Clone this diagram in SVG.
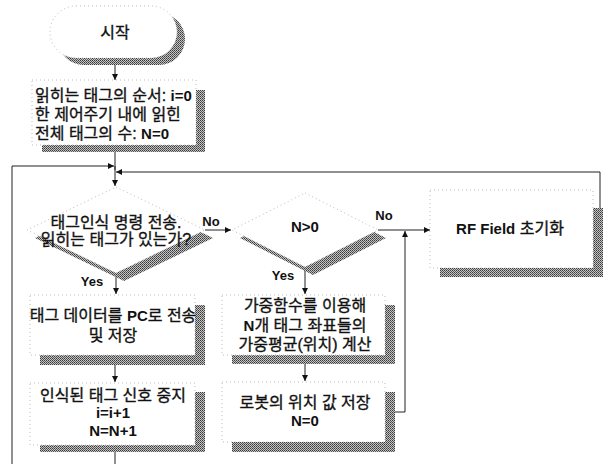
<svg xmlns="http://www.w3.org/2000/svg" width="603" height="464" viewBox="0 0 603 464">
<style>
text{font-family:"Liberation Sans","Noto Sans CJK KR",sans-serif;font-size:16px;fill:#111;stroke:#111;stroke-width:0.35;text-anchor:middle;dominant-baseline:central}
.b{font-weight:bold;stroke-width:0;font-size:15px}
.lbl{font-weight:bold;font-size:13px;stroke-width:0}
.box{fill:#fff;stroke:#bbb;stroke-width:1;stroke-dasharray:1 3}
.sh{fill:url(#dither)}
.ln{fill:none;stroke:#222;stroke-width:1}
.arr{marker-end:url(#ah)}
</style>
<defs>
<pattern id="dither" width="2" height="2" patternUnits="userSpaceOnUse">
<rect width="2" height="2" fill="#c4c4c4"/>
<rect width="1" height="1" fill="#3a3a3a"/>
<rect x="1" y="1" width="1" height="1" fill="#5a5a5a"/>
</pattern>
<marker id="ah" viewBox="0 0 10 10" refX="10" refY="5" markerWidth="7" markerHeight="6" markerUnits="userSpaceOnUse" orient="auto">
<path d="M0,0 L10,5 L0,10 z" fill="#111"/>
</marker>
</defs>
<rect width="603" height="464" fill="#fff"/>

<g id="connectors">
<path class="ln arr" d="M115,59 V80"/>
<path class="ln" d="M115,152 V170"/>
<path class="ln arr" d="M115,166 V186"/>
<path class="ln arr" d="M12,464 V166 H114"/>
<path class="ln arr" d="M600,208 V172 H116"/>
<path class="ln arr" d="M205,230 H231"/>
<path class="ln arr" d="M116,273 V294"/>
<path class="ln arr" d="M115,365 V382"/>
<path class="ln" d="M115,452 V464"/>
<path class="ln arr" d="M378,230 H430"/>
<path class="ln arr" d="M305,267 V294"/>
<path class="ln arr" d="M305,364 V381"/>
<path class="ln arr" d="M395,412 H405 V231"/>
<text class="lbl" x="211" y="221">No</text>
<text class="lbl" x="384" y="215">No</text>
<text class="lbl" x="92" y="281">Yes</text>
<text class="lbl" x="283" y="275">Yes</text>
</g>

<g id="start">
<rect class="sh" x="58" y="13" width="127" height="52" rx="26"/>
<rect class="box" x="50" y="6" width="127" height="52" rx="26"/>
<text x="115" y="32" font-size="16">시작</text>
</g>

<g id="init">
<rect class="sh" x="42" y="90" width="163" height="62"/>
<rect class="box" x="32" y="80" width="164" height="65"/>
<text x="35" y="95" style="text-anchor:start">읽히는 태그의 순서: <tspan class="b">i=0</tspan></text>
<text x="35" y="114" style="text-anchor:start">한 제어주기 내에 읽힌</text>
<text x="35" y="133" style="text-anchor:start">전체 태그의 수: <tspan class="b">N=0</tspan></text>
</g>

<g id="decide-tag">
<polygon class="sh" points="124,195 213,238 124,281 35,238"/>
<polygon class="box" points="116,187 205,230 116,273 27,230"/>
<text x="116" y="222">태그인식 명령 전송.</text>
<text x="116" y="239">읽히는 태그가 있는가?</text>
</g>

<g id="send-pc">
<rect class="sh" x="40" y="305" width="165" height="60"/>
<rect class="box" x="30" y="295" width="165" height="60"/>
<text x="113" y="315">태그 데이터를 <tspan class="b">PC</tspan>로 전송</text>
<text x="113" y="335">및 저장</text>
</g>

<g id="stop-signal">
<rect class="sh" x="40" y="392" width="165" height="60"/>
<rect class="box" x="30" y="383" width="165" height="62"/>
<text x="113" y="395">인식된 태그 신호 중지</text>
<text class="b" x="113" y="412">i=i+1</text>
<text class="b" x="113" y="430">N=N+1</text>
</g>

<g id="decide-n">
<polygon class="sh" points="313,201 386,238 313,275 240,238"/>
<polygon class="box" points="305,193 378,230 305,267 232,230"/>
<text class="b" x="305" y="226">N&gt;0</text>
</g>

<g id="weighted">
<rect class="sh" x="232" y="305" width="163" height="59"/>
<rect class="box" x="222" y="295" width="163" height="60"/>
<text x="305" y="305">가중함수를 이용해</text>
<text x="305" y="325"><tspan class="b">N</tspan>개 태그 좌표들의</text>
<text x="305" y="344">가중평균(위치) 계산</text>
</g>

<g id="save-pos">
<rect class="sh" x="232" y="392" width="163" height="60"/>
<rect class="box" x="222" y="382" width="163" height="60"/>
<text x="305" y="402">로봇의 위치 값 저장</text>
<text class="b" x="305" y="420">N=0</text>
</g>

<g id="rf-init">
<rect class="sh" x="440" y="208" width="163" height="69"/>
<rect class="box" x="430" y="190" width="163" height="78"/>
<text x="510" y="228"><tspan class="b">RF Field</tspan> 초기화</text>
</g>
</svg>
